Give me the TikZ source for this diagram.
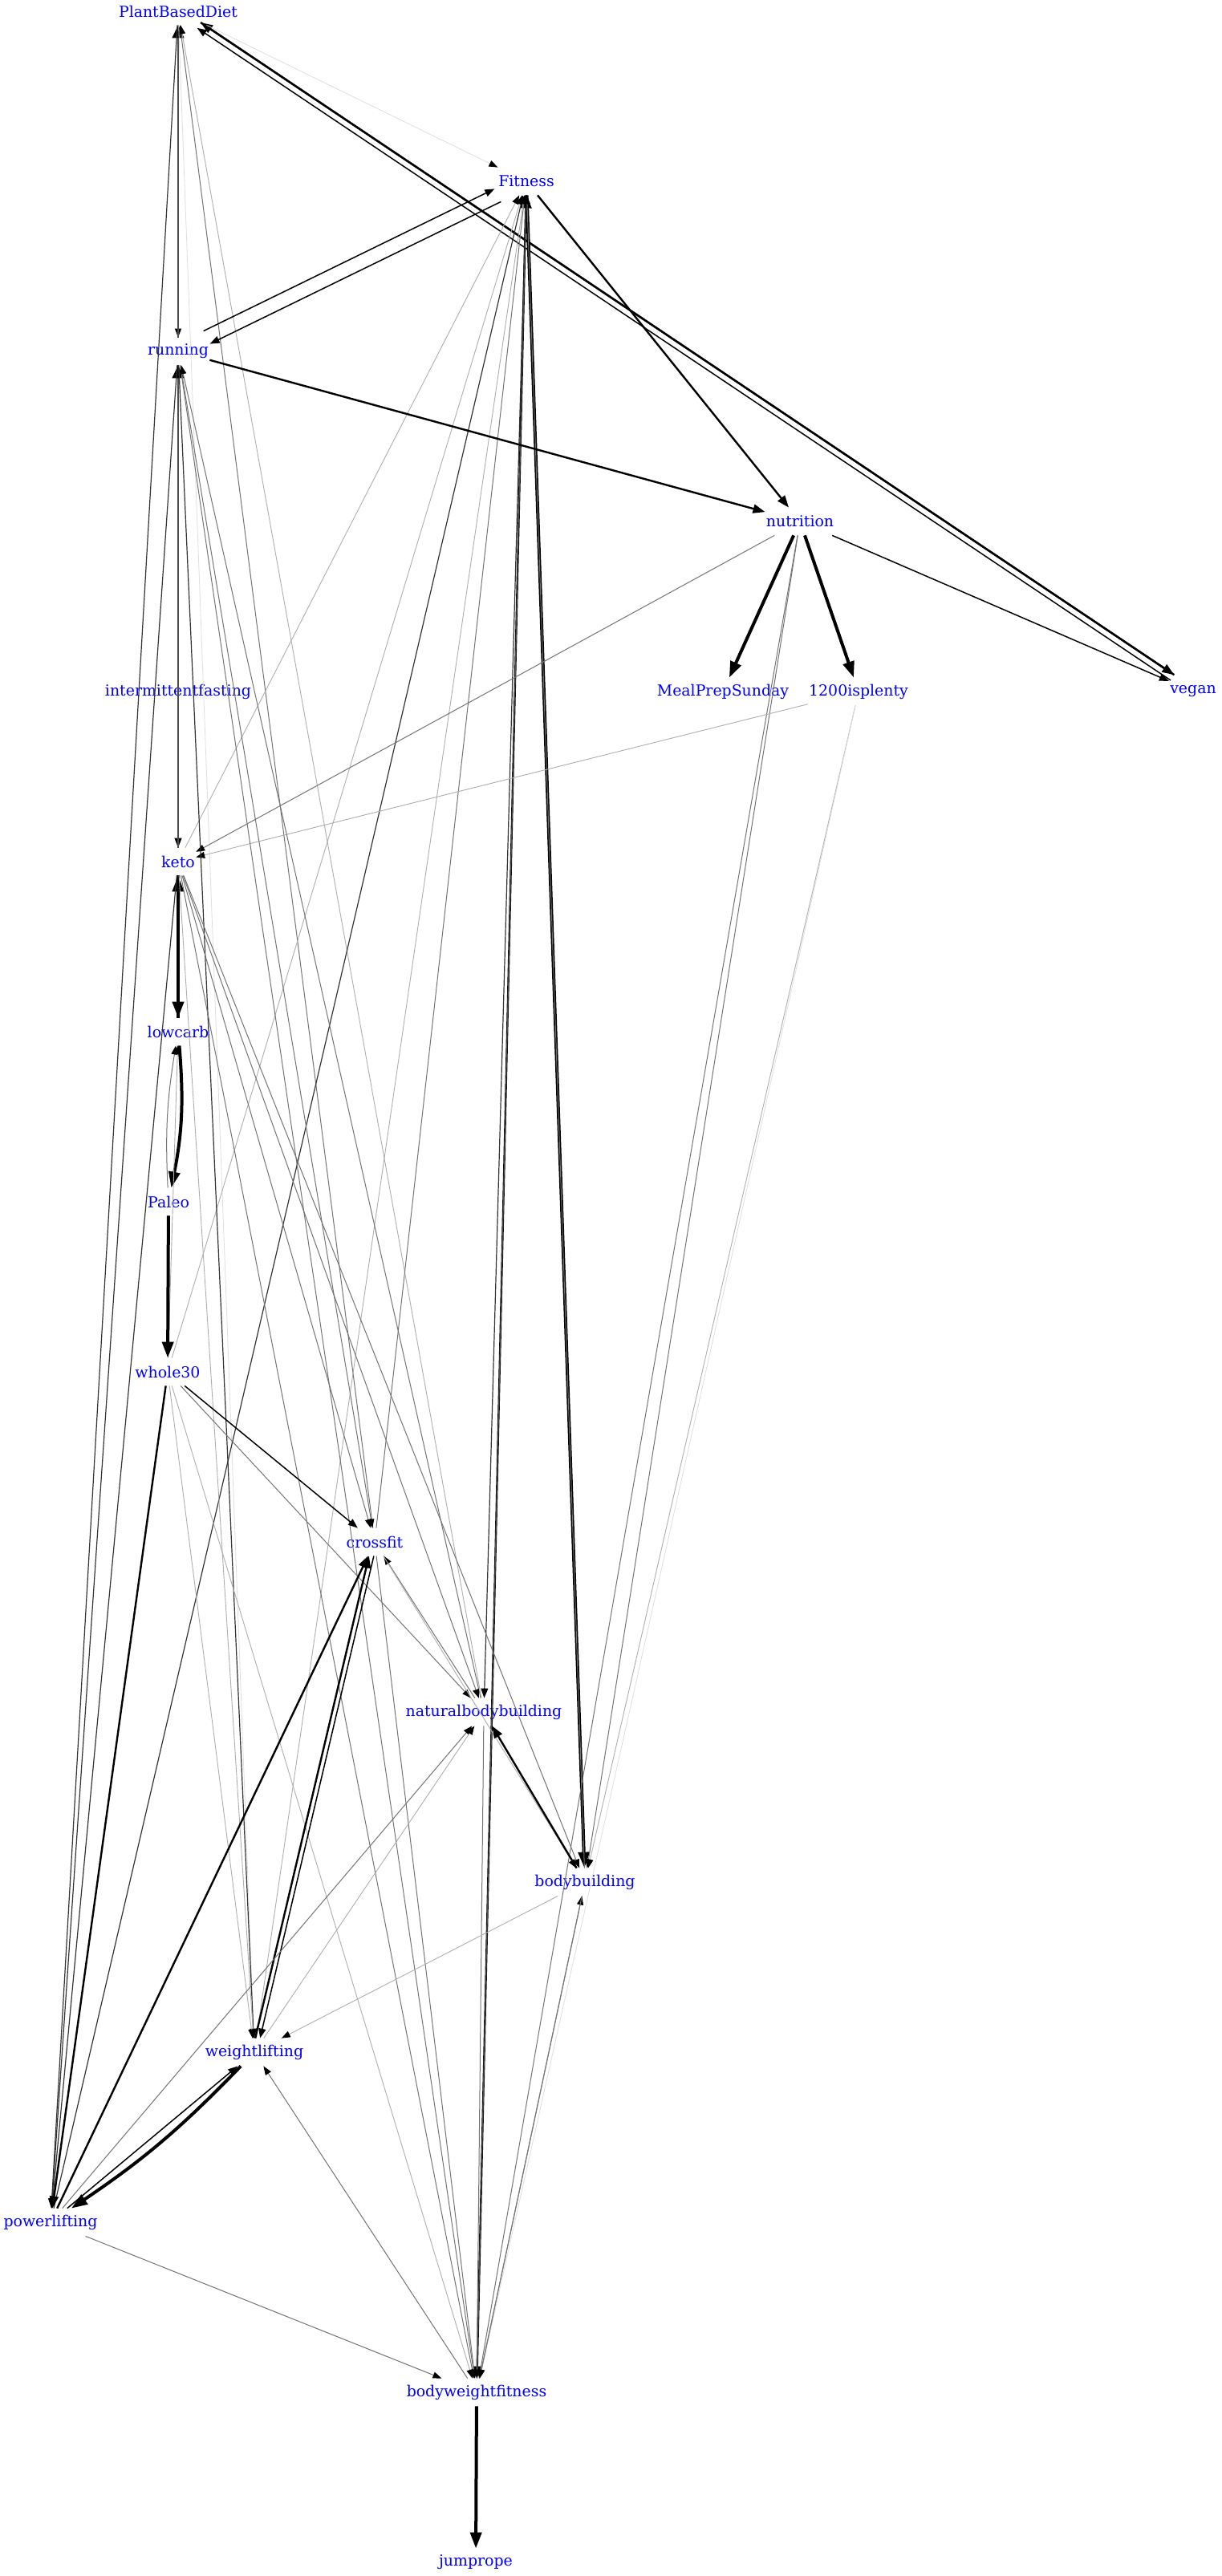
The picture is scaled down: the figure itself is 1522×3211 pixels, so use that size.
\documentclass[tikz,border=0pt]{standalone}
\usepackage{fontspec}
\setmainfont{DejaVu Serif}
\usetikzlibrary{arrows.meta}
\tikzset{
  lbl/.style={text=blue,inner xsep=0.5pt,inner ysep=0pt,minimum height=17pt,font=\fontsize{9.45}{11}\selectfont},
  hair/.style={draw=black!13,line width=0.4pt,-{Triangle[length=5.5pt,width=4pt,color=black]}},
  lite/.style={draw=black!32,line width=0.45pt,-{Triangle[length=5.5pt,width=4pt,color=black]}},
  soft/.style={draw=black!55,line width=0.5pt,-{Triangle[length=5.5pt,width=4pt,color=black]}},
  dark/.style={draw=black!80,line width=0.6pt,-{Triangle[length=6pt,width=4.5pt,color=black]}},
  dense/.style={draw=black!70,line width=0.6pt,-{Triangle[length=8pt,width=7.5pt,color=black]}},
  firm/.style={draw=black,line width=0.75pt,-{Triangle[length=6pt,width=4.5pt]}},
  bold/.style={draw=black,line width=1.2pt,-{Triangle[length=7.5pt,width=5.5pt]}},
  heavy/.style={draw=black,line width=2pt,-{Triangle[length=10pt,width=7pt]}},
}
\begin{document}
\begin{tikzpicture}[x=0.5pt,y=-0.5pt]
  \useasboundingbox (0,0) rectangle (1522,3211);

  \node[lbl] (pbd) at (222,14) {PlantBasedDiet};
  \node[lbl] (fitness) at (656,226) {Fitness};
  \node[lbl] (running) at (222,438) {running};
  \node[lbl] (nutrition) at (997,650) {nutrition};
  \node[lbl] (ifasting) at (222,862) {intermittentfasting};
  \node[lbl] (mealprep) at (901,862) {MealPrepSunday};
  \node[lbl] (plenty) at (1070,862) {1200isplenty};
  \node[lbl] (vegan) at (1487,862) {vegan};
  \node[lbl] (keto) at (222,1074) {keto};
  \node[lbl] (lowcarb) at (222,1286) {lowcarb};
  \node[lbl] (paleo) at (210,1498) {Paleo};
  \node[lbl] (whole) at (209,1710) {whole30};
  \node[lbl] (crossfit) at (467,1922) {crossfit};
  \node[lbl] (natbb) at (603,2134) {naturalbodybuilding};
  \node[lbl] (bb) at (729,2346) {bodybuilding};
  \node[lbl] (wl) at (317,2558) {weightlifting};
  \node[lbl] (pl) at (63,2770) {powerlifting};
  \node[lbl] (bwf) at (594,2982) {bodyweightfitness};
  \node[lbl] (jumprope) at (593,3194) {jumprope};

  % top
  \draw[bold,transform canvas={shift={(1.1pt,1.7pt)}}] (pbd) -- (vegan);
  \draw[bold,transform canvas={shift={(1.1pt,1.7pt)}}] (vegan) -- (pbd);
  \draw[firm,transform canvas={shift={(-1.1pt,-1.7pt)}}] (vegan) -- (pbd);
  \draw[hair] (pbd) -- (fitness);
  \draw[soft] (pbd) -- (running); \draw[dense] (running) -- (pbd);
  \draw[dark] (pbd) -- (pl);
  \draw[soft] (crossfit) -- (pbd);
  \draw[lite] (natbb) -- (pbd);
  \draw[hair] (pbd) -- (wl);

  % Fitness
  \draw[bold] (fitness) -- (nutrition);
  \draw[firm,transform canvas={shift={(-2pt,4pt)}}] (running) -- (fitness);
  \draw[firm,transform canvas={shift={(2pt,-4pt)}}] (fitness) -- (running);
  \draw[heavy] (fitness) -- (bb);
  \draw[dark] (fitness) -- (natbb);
  \draw[bold] (fitness) -- (bwf); \draw[dense] (bwf) -- (fitness);
  \draw[dark] (pl) -- (fitness);
  \draw[lite] (keto) -- (fitness);
  \draw[lite] (whole) -- (fitness);
  \draw[soft] (crossfit) -- (fitness);
  \draw[lite] (wl) -- (fitness);
  \draw[soft] (bb) -- (fitness);

  % nutrition
  \draw[bold] (running) -- (nutrition);
  \draw[heavy] (nutrition) -- (mealprep);
  \draw[heavy] (nutrition) -- (plenty);
  \draw[firm] (nutrition) -- (vegan);
  \draw[soft] (nutrition) -- (keto);
  \draw[soft] (nutrition) -- (bb); \draw[soft] (nutrition) -- (bwf);
  \draw[lite] (plenty) -- (keto);
  \draw[lite] (plenty) -- (bb); \draw[hair] (plenty) -- (bwf);

  % running
  \draw[dark] (running) -- (keto); \draw[dense] (keto) -- (running);
  \draw[dark] (running) -- (pl);
  \draw[dark] (running) -- (wl);
  \draw[soft] (running) -- (bwf);
  \draw[soft] (running) -- (crossfit);
  \draw[soft] (natbb) -- (running);

  % keto, lowcarb, Paleo
  \draw[heavy] (keto) -- (lowcarb); \draw[heavy] (lowcarb) -- (keto);
  \draw[dark] (keto) -- (pl);
  \draw[lite] (keto) -- (wl);
  \draw[soft] (keto) -- (crossfit);
  \draw[soft] (keto) -- (natbb);
  \draw[soft] (keto) -- (bb);
  \draw[soft] (keto) -- (bwf);
  \draw[heavy] (lowcarb) to[bend left=8] (paleo);
  \draw[soft] (paleo) to[bend left=6] (lowcarb);
  \draw[lite] (whole) -- (lowcarb);
  \draw[heavy] (paleo) -- (whole);

  % whole30
  \draw[firm] (whole) -- (crossfit);
  \draw[soft] (whole) -- (natbb);
  \draw[bold] (whole) -- (pl);
  \draw[lite] (whole) -- (wl);
  \draw[lite] (whole) -- (bwf);

  % crossfit, bodybuilding
  \draw[bold] (pl) -- (crossfit);
  \draw[bold,transform canvas={xshift=-1.5pt}] (wl) -- (crossfit);
  \draw[firm,transform canvas={xshift=1.5pt}] (crossfit) -- (wl);
  \draw[soft] (natbb) -- (crossfit);
  \draw[lite] (crossfit) -- (bb);
  \draw[soft] (crossfit) -- (bwf);
  \draw[bold] (bb) -- (natbb);
  \draw[soft] (pl) -- (natbb);
  \draw[lite] (wl) -- (natbb);
  \draw[soft] (natbb) -- (bwf);
  \draw[lite] (bb) -- (wl);
  \draw[soft] (bwf) -- (bb); \draw[soft] (bb) -- (bwf);

  % lifting
  \draw[heavy] (wl) to[bend left=6] (pl);
  \draw[firm] (pl) -- (wl);
  \draw[soft] (bwf) -- (wl);
  \draw[soft] (pl) -- (bwf);
  \draw[heavy] (bwf) -- (jumprope);
\end{tikzpicture}
\end{document}
